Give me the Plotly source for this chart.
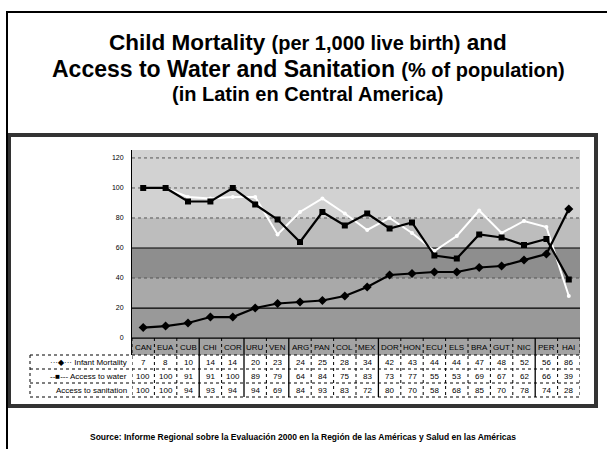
import plotly.graph_objects as go

countries = ["CAN", "EUA", "CUB", "CHI", "COR", "URU", "VEN", "ARG", "PAN", "COL",
             "MEX", "DOR", "HON", "ECU", "ELS", "BRA", "GUT", "NIC", "PER", "HAI"]
infant_mortality = [7, 8, 10, 14, 14, 20, 23, 24, 25, 28, 34, 42, 43, 44, 44, 47, 48, 52, 56, 86]
access_water = [100, 100, 91, 91, 100, 89, 79, 64, 84, 75, 83, 73, 77, 55, 53, 69, 67, 62, 66, 39]
access_sanitation = [100, 100, 94, 93, 94, 94, 69, 84, 93, 83, 72, 80, 70, 58, 68, 85, 70, 78, 74, 28]
y_ticks = [0, 20, 40, 60, 80, 100, 120]
solid_breaks = [2.5, 4.5, 6.5, 10.5, 17.5]

W, H = 607, 449
def px(x):
    return x / W
def py(y):
    return 1 - y / H

FONT = "Liberation Sans, Arial, sans-serif"

fig = go.Figure()

fig.add_trace(go.Scatter(x=countries, y=access_sanitation, mode="lines+markers",
                         line=dict(color="white", width=2),
                         marker=dict(color="white", size=4), name="Access to sanitation"))
fig.add_trace(go.Scatter(x=countries, y=access_water, mode="lines+markers",
                         line=dict(color="black", width=2.2),
                         marker=dict(color="black", size=6, symbol="square"), name="Access to water"))
fig.add_trace(go.Scatter(x=countries, y=infant_mortality, mode="lines+markers",
                         line=dict(color="black", width=2.2),
                         marker=dict(color="black", size=7, symbol="diamond"), name="Infant Mortality"))

shapes = []
# shaded background bands
bands = [(80, 125.3, "#d2d2d2"), (60, 80, "#bdbdbd"), (40, 60, "#8e8e8e"),
         (20, 40, "#a9a9a9"), (0, 20, "#999999"), (-11.3, 0, "#a3a3a3")]
for y0, y1, c in bands:
    shapes.append(dict(type="rect", xref="x domain", yref="y", x0=0, x1=1, y0=y0, y1=y1,
                       fillcolor=c, line=dict(width=0), layer="below"))
# grid lines
for v in [20, 60, 0]:
    shapes.append(dict(type="line", xref="x domain", yref="y", x0=0, x1=1, y0=v, y1=v,
                       line=dict(color="black", width=1.2), layer="below"))
for v in [40, 80, 100, 120]:
    shapes.append(dict(type="line", xref="x domain", yref="y", x0=0, x1=1, y0=v, y1=v,
                       line=dict(color="#555555", width=1, dash="dot"), layer="below"))
# table column separators
for i in range(len(countries) + 1):
    xb = i - 0.5
    solid = xb in solid_breaks
    shapes.append(dict(type="line", xref="x", yref="paper", x0=xb, x1=xb,
                       y0=py(338), y1=py(397),
                       line=dict(color="black", width=1.3 if solid else 1,
                                 dash="solid" if solid else "dot")))
# table row lines
for yy in [355, 369, 383, 397]:
    shapes.append(dict(type="line", xref="paper", yref="paper", x0=px(30), x1=px(582),
                       y0=py(yy), y1=py(yy), line=dict(color="black", width=1, dash="dot")))
shapes.append(dict(type="line", xref="paper", yref="paper", x0=px(30), x1=px(30),
                   y0=py(355), y1=py(397), line=dict(color="black", width=1, dash="dot")))
# chart frame
shapes.append(dict(type="rect", xref="paper", yref="paper", x0=px(9), x1=px(596),
                   y0=py(406), y1=py(135), line=dict(color="#333333", width=4)))
# outer slide frame
shapes.append(dict(type="line", xref="paper", yref="paper", x0=px(6), x1=1,
                   y0=py(12), y1=py(12), line=dict(color="black", width=2)))
shapes.append(dict(type="line", xref="paper", yref="paper", x0=px(7), x1=px(7),
                   y0=py(12), y1=0, line=dict(color="black", width=2)))

annotations = []
# title
titles = [
    ("<b>Child Mortality <span style='font-size:20px'>(per 1,000 live birth)</span> and</b>", 43, 22.5),
    ("<b>Access to Water and Sanitation <span style='font-size:20px'>(% of population)</span></b>", 69, 23),
    ("<b>(in Latin en Central America)</b>", 94, 20),
]
for t, yy, fs in titles:
    annotations.append(dict(text=t, xref="paper", yref="paper", x=px(308), y=py(yy),
                            yanchor="middle", showarrow=False,
                            font=dict(size=fs, color="black", family=FONT)))
# country header row
for c in countries:
    annotations.append(dict(text=c, xref="x", yref="paper", x=c, y=py(347), yanchor="middle",
                            showarrow=False, font=dict(size=8, color="black", family=FONT)))
# table values
rows = [(infant_mortality, 362), (access_water, 376), (access_sanitation, 390)]
for vals, yy in rows:
    for c, v in zip(countries, vals):
        annotations.append(dict(text=str(v), xref="x", yref="paper", x=c, y=py(yy),
                                yanchor="middle", showarrow=False,
                                font=dict(size=8, color="black", family=FONT)))
# row labels with legend keys
row_labels = [("···◆··· Infant Mortality", 362), ("--■--- Access to water", 376),
              ("Access to sanitation", 390)]
for t, yy in row_labels:
    annotations.append(dict(text=t, xref="paper", yref="paper", x=px(129), y=py(yy),
                            xanchor="right", yanchor="middle", showarrow=False,
                            font=dict(size=8, color="black", family=FONT)))
# source
annotations.append(dict(
    text="<b>Source: Informe Regional sobre la Evaluación 2000 en la Región de las Américas y Salud en las Américas</b>",
    xref="paper", yref="paper", x=px(303), y=py(437), yanchor="middle", showarrow=False,
    font=dict(size=8.5, color="black", family=FONT)))

fig.update_layout(
    width=W, height=H,
    margin=dict(l=0, r=0, t=0, b=0),
    paper_bgcolor="white",
    plot_bgcolor="#bdbdbd",
    showlegend=False,
    shapes=shapes,
    annotations=annotations,
    xaxis=dict(domain=[px(132), px(580)], range=[-0.5, 19.5], showticklabels=False,
               showgrid=False, zeroline=False, showline=False, ticks=""),
    yaxis=dict(domain=[py(355), py(150)], range=[-11.3, 125.3], tickvals=y_ticks,
               showgrid=False, zeroline=False, showline=True, linecolor="black", linewidth=1,
               ticks="", ticklabelstandoff=6,
               tickfont=dict(size=7, color="black", family=FONT)),
)

fig.write_html("out.html", config={"displayModeBar": False},
               post_script="document.body.style.margin='0';")
